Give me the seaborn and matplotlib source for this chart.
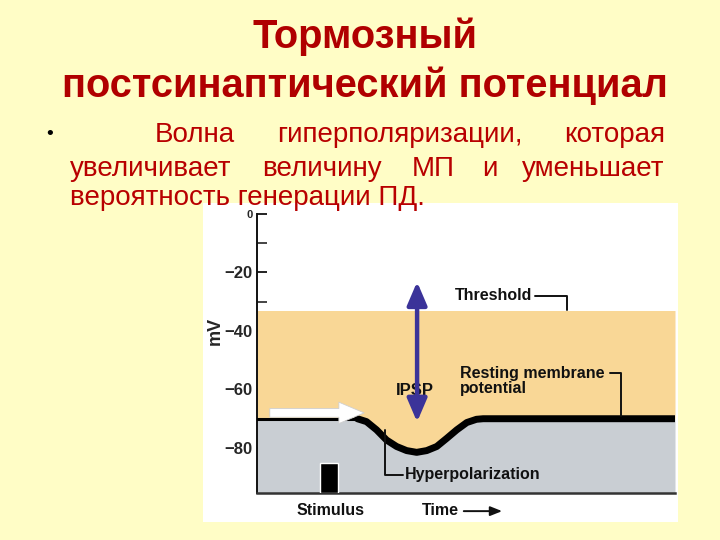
import numpy as np
import pandas as pd
import matplotlib
matplotlib.use("Agg")
import matplotlib.pyplot as plt
import seaborn as sns
from matplotlib.patches import Rectangle

# --- values ---
time_ms = [0, 24.0, 26.2, 28.6, 31.0, 33.4, 35.8, 38.2, 40.6, 43.0, 45.4, 47.8, 50.2, 52.5, 54.1, 100]
membrane_mv = [-70.0, -70.0, -71.0, -73.8, -77.3, -79.5, -80.9, -81.5, -80.9, -79.5, -76.7, -73.8, -71.3, -70.2, -70.0, -70.0]
threshold_mv = -33
y_bottom = -95.4
major_ticks = [0, -20, -40, -60, -80]
minor_ticks = [-10, -30, -50, -70]
stimulus_start = [15.1]
stimulus_width = [4.3]
stimulus_top = [-85.1]
ipsp_top, ipsp_bottom, ipsp_x = -23.2, -71.1, 38.3

title_lines = ["Тормозный", "постсинаптический потенциал"]
body_line1 = ["Волна", "гиперполяризации,", "которая"]
body_line2 = ["увеличивает", "величину", "МП", "и", "уменьшает"]
body_line3 = "вероятность генерации ПД."

sns.set_theme(style="white")
plt.rcParams["font.family"] = ["Liberation Sans", "DejaVu Sans"]

bg = "#FFFDC6"
red_title = "#B00000"
red_body = "#B80000"
orange = "#F9D796"
gray = "#C9CED3"

fig = plt.figure(figsize=(7.2, 5.4), dpi=100, facecolor=bg)
W, H = 720, 540

def fx(px):
    return px / W

def fy(py):
    return 1 - py / H

# white picture box
fig.patches.append(Rectangle((fx(203), fy(522)), fx(678) - fx(203), fy(203) - fy(522),
                             transform=fig.transFigure, facecolor="white", edgecolor="none", zorder=-1))

# title
for line, base in zip(title_lines, [48, 97]):
    fig.text(fx(365), fy(base), line, ha="center", va="baseline", fontsize=28.7,
             fontweight="bold", color=red_title)

# body text (justified by hand)
fig.text(fx(50), fy(139), "•", ha="center", va="baseline", fontsize=14, color="black")
for word, px, ha in zip(body_line1, [155, 277, 665], ["left", "left", "right"]):
    fig.text(fx(px), fy(142), word, ha=ha, va="baseline", fontsize=20, color=red_body)
for word, px, ha in zip(body_line2, [70, 262, 412, 482, 664], ["left", "left", "left", "left", "right"]):
    fig.text(fx(px), fy(176), word, ha=ha, va="baseline", fontsize=20, color=red_body)

ax = fig.add_axes([fx(257), fy(493), fx(675) - fx(257), fy(214) - fy(493)])
ax.set_facecolor("white")
ax.set_xlim(0, 100)
ax.set_ylim(y_bottom, 0)

df = pd.DataFrame({"time": time_ms, "mv": membrane_mv})
t = df["time"].to_numpy()
v = df["mv"].to_numpy()
ax.fill_between(t, v, threshold_mv, color=orange, lw=0, zorder=1)
ax.fill_between(t, y_bottom, v, color=gray, lw=0, zorder=1)

sns.lineplot(data=df.iloc[:2], x="time", y="mv", color="black", lw=2.2, ax=ax, zorder=3)
sns.lineplot(data=df.iloc[1:], x="time", y="mv", color="black", lw=5, ax=ax, zorder=3)

ax.bar(stimulus_start, [s - y_bottom for s in stimulus_top], width=stimulus_width,
       bottom=y_bottom, align="edge", color="black", zorder=4)

# white arrow on resting line
ax.annotate("", xy=(26.3, -68.0), xytext=(2.4, -68.0),
            arrowprops=dict(arrowstyle="simple,head_length=1.3,head_width=1.1,tail_width=0.45",
                            mutation_scale=14, fc="white", ec="#cfcfcf", lw=0.6), zorder=5)

# IPSP arrow
ax.text(37.8, -60.5, "IPSP", ha="center", va="center", fontsize=12, fontweight="bold",
        color="#111111", zorder=5)
ax.annotate("", xy=(ipsp_x, ipsp_top), xytext=(ipsp_x, ipsp_bottom),
            arrowprops=dict(arrowstyle="<|-|>,head_length=0.7,head_width=0.3",
                            mutation_scale=20, color="#3B3399", lw=3.2, shrinkA=0, shrinkB=0),
            zorder=6)

# labels with brackets
lab = dict(fontsize=11.5, fontweight="bold", color="#111111", zorder=6)
ax.text(47.4, -28.0, "Threshold", ha="left", va="center", **lab)
ax.plot([66.6, 74.2, 74.2], [-28.0, -28.0, -32.8], color="#111111", lw=1.4, zorder=6)
ax.text(48.6, -54.4, "Resting membrane", ha="left", va="center", **lab)
ax.text(48.6, -59.8, "potential", ha="left", va="center", **lab)
ax.plot([84.4, 87.1, 87.1], [-54.4, -54.4, -69.0], color="#111111", lw=1.4, zorder=6)
ax.text(35.4, -89.2, "Hyperpolarization", ha="left", va="center", **lab)
ax.plot([30.6, 30.6, 34.9], [-74.0, -89.2, -89.2], color="#111111", lw=1.4, zorder=6)

ax.text(17.5, -101.4, "Stimulus", ha="center", va="center", clip_on=False, **lab)
ax.text(39.5, -101.4, "Time", ha="left", va="center", clip_on=False, **lab)
ax.annotate("", xy=(59.3, -101.6), xytext=(48.8, -101.6), annotation_clip=False,
            arrowprops=dict(arrowstyle="-|>,head_length=0.5,head_width=0.2",
                            mutation_scale=14, color="#111111", lw=1.4))

# axes styling
for side in ["top", "right"]:
    ax.spines[side].set_visible(False)
ax.spines["left"].set_color("#111111")
ax.spines["left"].set_linewidth(1.4)
ax.spines["bottom"].set_color("#333333")
ax.spines["bottom"].set_linewidth(1.8)
ax.set_xticks([])
ax.set_yticks(major_ticks)
ax.set_yticks(minor_ticks, minor=True)
ax.set_yticklabels([str(m).replace("-", "\u2212") for m in major_ticks], fontweight="bold")
ax.tick_params(axis="y", which="both", direction="in", length=7, width=1.4,
               color="#222222", left=True, labelsize=12, pad=3)
ax.tick_params(axis="y", which="minor", color="#444444")
ax.yaxis.get_majorticklabels()[0].set_fontsize(8)
ax.set_xlabel("")
ax.set_ylabel("mV", fontsize=13, fontweight="bold", labelpad=0)
ax.yaxis.set_label_coords(-0.08, 0.58)

# last body line drawn on top of the picture box
fig.text(fx(70), fy(205), body_line3, ha="left", va="baseline", fontsize=20,
         color=red_body, zorder=10)

fig.savefig("out.png", dpi=100, facecolor=bg)
